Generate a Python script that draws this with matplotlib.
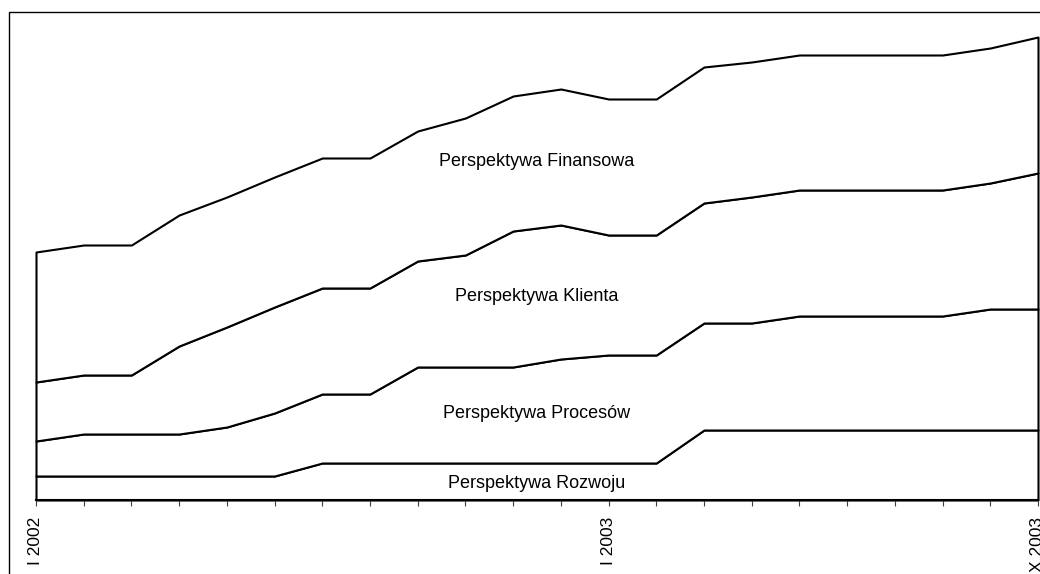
import matplotlib
matplotlib.use("Agg")
import matplotlib.pyplot as plt
import numpy as np
from matplotlib.patches import Rectangle

# months I 2002 .. X 2003
months = np.arange(22)
tick_labels = {0: "I 2002", 12: "I 2003", 21: "X 2003"}

# component values (stacked from bottom)
rozwoj = [2.4, 2.4, 2.4, 2.4, 2.4, 2.4, 3.7, 3.7, 3.7, 3.7, 3.7,
          3.7, 3.7, 3.7, 7.0, 7.0, 7.0, 7.0, 7.0, 7.0, 7.0, 7.0]
procesy = [3.5, 4.2, 4.2, 4.2, 4.9, 6.3, 6.9, 6.9, 9.6, 9.6, 9.6,
           10.4, 10.8, 10.8, 10.7, 10.7, 11.4, 11.4, 11.4, 11.4, 12.1, 12.1]
klient = [5.9, 5.9, 5.9, 8.8, 10.0, 10.6, 10.6, 10.6, 10.6, 11.2, 13.6,
          13.4, 12.0, 12.0, 12.0, 12.6, 12.6, 12.6, 12.6, 12.6, 12.6, 13.6]
finanse = [13.0, 13.0, 13.0, 13.1, 13.0, 13.0, 13.0, 13.0, 13.0, 13.7, 13.5,
           13.6, 13.6, 13.6, 13.6, 13.5, 13.5, 13.5, 13.5, 13.5, 13.5, 13.6]

names = ["Perspektywa Rozwoju", "Perspektywa Procesów",
         "Perspektywa Klienta", "Perspektywa Finansowa"]

plt.rcParams['font.family'] = ['Liberation Sans', 'DejaVu Sans']

fig = plt.figure(figsize=(10.4, 5.74), dpi=100)
W, H = 1040, 574
ax = fig.add_axes([36 / W, 1 - 500 / H, (1038 - 36) / W, (500 - 22) / H])

# outer chart border (cropped on the right and bottom)
fig.patches.append(Rectangle((9 / W, -0.1), 1.2, 1 - 12 / H + 0.1,
                             transform=fig.transFigure, fill=False,
                             edgecolor="black", linewidth=1.0))

polys = ax.stackplot(months, rozwoj, procesy, klient, finanse,
                     colors=["white"] * 4, edgecolor="black", linewidth=1.5)
for p in polys:
    p.set_clip_on(False)

ax.set_xlim(0, 21)
ax.set_ylim(0, 47.8)

for s in ["top", "left", "right"]:
    ax.spines[s].set_visible(False)
ax.spines["bottom"].set_linewidth(1.5)
ax.spines["bottom"].set_zorder(5)

ax.set_yticks([])
ax.set_xticks(months)
ax.set_xticklabels([tick_labels.get(m, "") for m in months], rotation=90,
                   fontsize=12.5)
ax.tick_params(axis="x", direction="out", length=4, width=0.8,
               color="#404040", pad=8)

label_pos = [(10.5, 1.7), (10.5, 8.6), (10.5, 20.3), (10.5, 33.8)]
for name, (x, y) in zip(names, label_pos):
    ax.text(x, y, name, ha="center", va="center", fontsize=13)

fig.savefig("out.png", dpi=100)
